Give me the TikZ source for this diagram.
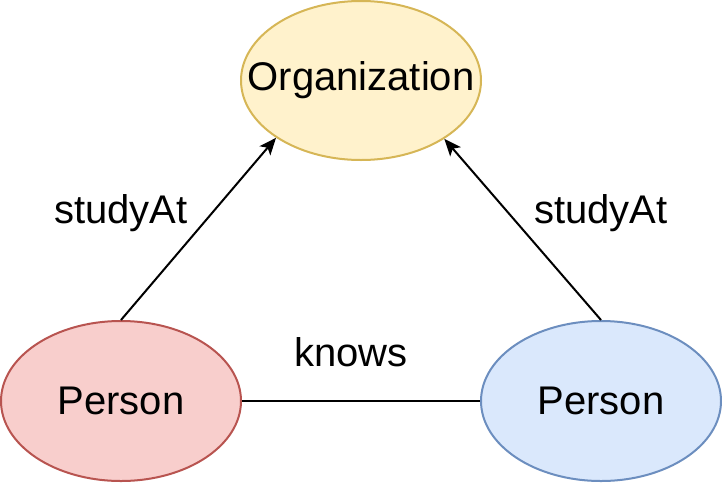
\documentclass[tikz,border=0pt]{standalone}
\usepackage{fontspec}
\setmainfont{Liberation Sans}
\usetikzlibrary{arrows.meta,shapes.geometric}
\definecolor{orgfill}{HTML}{FFF2CC}
\definecolor{orgdraw}{HTML}{D6B656}
\definecolor{redfill}{HTML}{F8CECC}
\definecolor{reddraw}{HTML}{B85450}
\definecolor{bluefill}{HTML}{DAE8FC}
\definecolor{bluedraw}{HTML}{6C8EBF}
\begin{document}
\begin{tikzpicture}[x=1pt,y=-1pt,
  ent/.style={ellipse, draw, line width=2pt, inner sep=0pt, font=\fontsize{40}{48}\selectfont},
  lbl/.style={font=\fontsize{40}{48}\selectfont, inner sep=0pt},
  rel/.style={line width=2pt, -{Stealth[length=17pt,width=14pt,inset=4pt]}}]
\useasboundingbox (0,0) rectangle (722,482);
\node[ent, fill=orgfill, draw=orgdraw, inner xsep=-35pt, minimum width=240pt, minimum height=159pt] (org) at (361,80.5) {Organization};
\node[ent, fill=redfill, draw=reddraw, minimum width=240pt, minimum height=160pt] (p1) at (121,401) {Person};
\node[ent, fill=bluefill, draw=bluedraw, minimum width=240pt, minimum height=160pt] (p2) at (601,401) {Person};
\draw[rel] (p1.north) -- (org.214.5);
\draw[rel] (p2.north) -- (org.325.5);
\draw[line width=2pt] (p1.east) -- (p2.west);
\node[lbl] (l1) at (121,213) {studyAt};
\node[lbl] (l2) at (601,213) {studyAt};
\node[lbl] (l3) at (351,352) {knows};
\end{tikzpicture}
\end{document}
